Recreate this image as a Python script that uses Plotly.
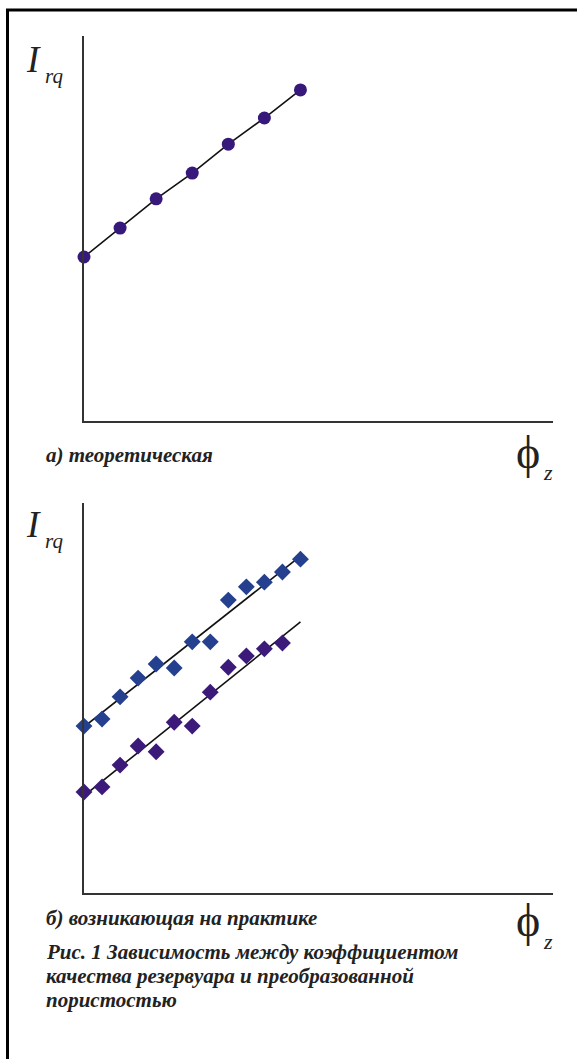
import plotly.graph_objects as go

W, H = 577, 1059

# ---- data ----
theory_x = [0, 1, 2, 3, 4, 5, 6]
theory_y = [4.26, 5.01, 5.77, 6.44, 7.19, 7.87, 8.60]

practice_x_upper = [0, 0.5, 1, 1.5, 2, 2.5, 3, 3.5, 4, 4.5, 5, 5.5, 6]
practice_y_upper = [4.28, 4.46, 5.03, 5.51, 5.87, 5.77, 6.44, 6.44, 7.51, 7.85, 7.97, 8.23, 8.56]

practice_x_lower = [0, 0.5, 1, 1.5, 2, 2.5, 3, 3.5, 4, 4.5, 5, 5.5]
practice_y_lower = [2.59, 2.72, 3.28, 3.77, 3.62, 4.38, 4.28, 5.15, 5.79, 6.08, 6.26, 6.41]

trend_x = [0, 6]
trend_upper = [4.26, 8.64]
trend_lower = [2.49, 6.95]

caption_a = "а) теоретическая"
caption_b = "б) возникающая на практике"
figure_caption = ["Рис. 1 Зависимость между коэффициентом",
                  "качества резервуара и преобразованной",
                  "пористостью"]

# ---- styling ----
C_CIRCLE = "#36197a"
C_BLUE = "#24408e"
C_PURPLE = "#3c1a7a"
AXIS_C = "#333333"
SERIF = "Liberation Serif, Times New Roman, serif"


def px_x(p):
    return p / W


def px_y(p):
    return 1 - p / H


fig = go.Figure()

# top chart
fig.add_trace(go.Scatter(x=theory_x, y=theory_y, mode="lines+markers",
                         line=dict(color="#111111", width=1.6),
                         marker=dict(symbol="circle", size=13, color=C_CIRCLE),
                         cliponaxis=False, xaxis="x", yaxis="y", showlegend=False))

# bottom chart
fig.add_trace(go.Scatter(x=trend_x, y=trend_upper, mode="lines",
                         line=dict(color="#111111", width=1.6),
                         cliponaxis=False, xaxis="x2", yaxis="y2", showlegend=False))
fig.add_trace(go.Scatter(x=trend_x, y=trend_lower, mode="lines",
                         line=dict(color="#111111", width=1.6),
                         cliponaxis=False, xaxis="x2", yaxis="y2", showlegend=False))
fig.add_trace(go.Scatter(x=practice_x_upper, y=practice_y_upper, mode="markers",
                         marker=dict(symbol="diamond", size=13, color=C_BLUE),
                         cliponaxis=False, xaxis="x2", yaxis="y2", showlegend=False))
fig.add_trace(go.Scatter(x=practice_x_lower, y=practice_y_lower, mode="markers",
                         marker=dict(symbol="diamond", size=13, color=C_PURPLE),
                         cliponaxis=False, xaxis="x2", yaxis="y2", showlegend=False))

ax_common = dict(showline=True, linecolor=AXIS_C, linewidth=2, showgrid=False,
                 zeroline=False, showticklabels=False, ticks="", fixedrange=True)

x_dom = [px_x(84), px_x(553)]
fig.update_layout(
    width=W, height=H,
    margin=dict(l=0, r=0, t=0, b=0),
    paper_bgcolor="white", plot_bgcolor="white",
    xaxis=dict(domain=x_dom, range=[0, 13], anchor="y", **ax_common),
    yaxis=dict(domain=[px_y(421), px_y(36)], range=[0, 10], anchor="x", **ax_common),
    xaxis2=dict(domain=x_dom, range=[0, 13], anchor="y2", **ax_common),
    yaxis2=dict(domain=[px_y(893), px_y(503)], range=[0, 10], anchor="x2", **ax_common),
)

# frame (left and top border)
fig.add_shape(type="line", xref="paper", yref="paper",
              x0=px_x(7.5), x1=px_x(7.5), y0=px_y(9), y1=px_y(1059),
              line=dict(color="black", width=3))
fig.add_shape(type="line", xref="paper", yref="paper",
              x0=px_x(6), x1=px_x(577), y0=px_y(10), y1=px_y(10),
              line=dict(color="black", width=3))

annotations = []


def add_text(x, y, text, size, xanchor="left", yanchor="middle", bold=False, italic=True, color="#222222"):
    t = text
    if bold:
        t = "<b>" + t + "</b>"
    if italic:
        t = "<i>" + t + "</i>"
    annotations.append(dict(x=px_x(x), y=px_y(y), xref="paper", yref="paper",
                            text=t, showarrow=False, xanchor=xanchor, yanchor=yanchor,
                            font=dict(family=SERIF, size=size, color=color)))


# axis labels
for y_i, y_phi in [(59, 452), (524, 920)]:
    add_text(24, y_i, "I", 37)
    add_text(43, y_i + 17, "rq", 21)
    add_text(514, y_phi, "ϕ", 46, italic=False)
    add_text(541, y_phi + 21, "z", 22)

add_text(44, 455, caption_a, 21, bold=True)
add_text(44, 918, caption_b, 21, bold=True)
for i, line in enumerate(figure_caption):
    add_text(44, 952 + 24 * i, line, 21, bold=True)

fig.update_layout(annotations=annotations)

fig.write_html("out.html", config={"displayModeBar": False},
               post_script="document.body.style.margin='0px';")
